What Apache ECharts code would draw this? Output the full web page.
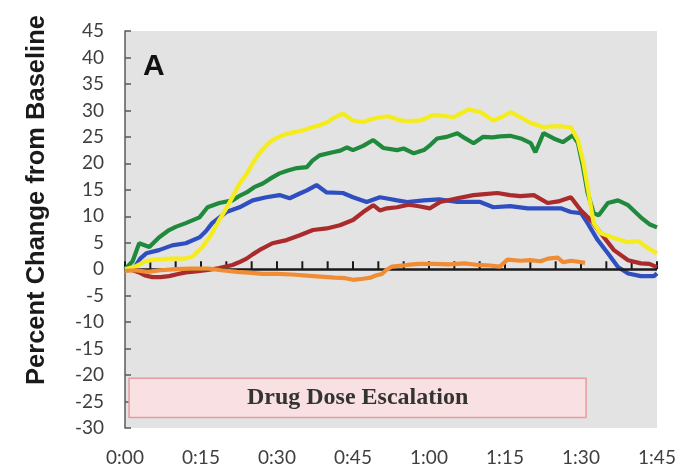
<!DOCTYPE html>
<html>
<head>
<meta charset="utf-8">
<script src="https://cdn.jsdelivr.net/npm/echarts@6/dist/echarts.min.js"></script>
<style>
  html, body { margin: 0; padding: 0; background: #ffffff; }
  #chart { width: 679px; height: 469px; }
</style>
</head>
<body>
<div id="chart"></div>
<script>
// Time axis, in minutes from start
const timeMin = 0;
const timeMax = 105;
const timeLabels = ['0:00', '0:15', '0:30', '0:45', '1:00', '1:15', '1:30', '1:45'];
// small marks on the 0 % baseline, every 5 minutes
const baselineTicks = [0, 5, 10, 15, 20, 25, 30, 35, 40, 45, 50, 55, 60, 65, 70, 75, 80, 85, 90, 95, 100, 105];

// Percent change axis
const pctMin = -30;
const pctMax = 45;

// Each series: [minute, percent change from baseline]
const yellowSeries = [
  [0, 0], [2, 0.5], [4, 1.5], [6, 1.8], [9, 2], [12, 2], [13.5, 2.5], [15.3, 4.2], [17, 6.5],
  [18.6, 9.3], [20, 11.5], [21.2, 13.6], [22.5, 16], [24, 18], [25.2, 20], [26.5, 21.9], [28, 23.5],
  [29.1, 24.4], [31, 25.3], [33, 25.8], [35, 26.2], [37, 26.8], [38.4, 27.2], [40, 27.8], [41, 28.5],
  [43, 29.4], [45, 28.1], [47, 27.8], [48.5, 28.3], [50.3, 28.7], [52, 28.9], [54.3, 28.1], [56, 28],
  [58.3, 28.1], [60.8, 29.1], [62.5, 29], [64.8, 28.7], [67.8, 30.2], [70.1, 29.7], [72.7, 28.1],
  [74.5, 28.8], [76.1, 29.7], [78.1, 28.7], [80.1, 27.6], [82.6, 26.8], [84, 27], [86, 27], [88, 26.8],
  [89.4, 24.4], [90.5, 20], [91.5, 14.4], [92.5, 8.7], [93.9, 6.8], [96.5, 5.9], [99.3, 5.1],
  [101.3, 5.3], [103.2, 4], [105, 3]
];
const greenSeries = [
  [0, 0], [1.5, 1.5], [2.8, 4.9], [4.8, 4.2], [6.7, 6], [8.7, 7.4], [10, 8], [12, 8.7], [14.7, 9.8],
  [16.3, 11.7], [18.6, 12.5], [21.2, 13], [22.5, 13.8], [24, 14.5], [25.5, 15.5], [27.2, 16.2],
  [29, 17.3], [30.5, 18.1], [32, 18.6], [33.9, 19.1], [35.9, 19.3], [37, 20.5], [38.4, 21.5], [41, 22.1],
  [42.5, 22.4], [43.8, 23], [45, 22.5], [47, 23.3], [49, 24.4], [51, 22.9], [53.7, 22.5], [55, 22.8],
  [57, 21.9], [59, 22.5], [60.3, 23.5], [61.6, 24.7], [63.5, 25], [65.6, 25.7], [67, 24.8], [68.8, 23.8],
  [70.7, 25], [72.5, 24.9], [74.1, 25.1], [76, 25.2], [78.1, 24.7], [80.1, 23.8], [81, 22.1],
  [82.6, 25.7], [84.6, 24.7], [86.4, 24], [88.4, 25.3], [89.4, 23.8], [90.4, 19.3], [91.3, 14.4],
  [92.5, 10.6], [93.5, 10.2], [95.3, 12.5], [97.3, 13], [99.3, 12.1], [101.8, 9.8], [103.5, 8.5],
  [105, 7.9]
];
const blueSeries = [
  [0, 0], [2, 0.5], [3, 2], [4.2, 3], [6.7, 3.6], [9.3, 4.5], [12, 4.9], [14.7, 6], [16, 7.2],
  [17.2, 8.7], [20, 10.8], [22.6, 11.7], [25.2, 13], [27.9, 13.6], [30.5, 14], [32.5, 13.4],
  [34.5, 14.3], [35.9, 14.9], [37.8, 15.9], [39.8, 14.5], [43, 14.4], [45, 13.6], [47.7, 12.7],
  [50.3, 13.6], [52, 13.3], [53.7, 13], [55.7, 12.7], [59, 13], [62, 13.2], [65.6, 12.7], [70.1, 12.7],
  [72.7, 11.7], [76, 11.9], [79.5, 11.5], [82.6, 11.5], [86, 11.5], [88, 10.8], [90, 10.6],
  [91.3, 8.7], [93.3, 5.5], [95.3, 3], [97.3, 0.4], [99.3, -0.8], [101.8, -1.3], [104.4, -1.3],
  [105, -0.8]
];
const redSeries = [
  [0, 0], [1.5, -0.2], [2.8, -0.6], [4, -1.2], [5.4, -1.5], [7, -1.5], [8.7, -1.3], [10.5, -0.9],
  [12, -0.6], [14, -0.4], [16, -0.2], [18.6, 0.2], [21.2, 0.8], [22.5, 1.3], [24, 2], [25.2, 2.8],
  [26.5, 3.6], [29.1, 4.9], [31.9, 5.5], [34.5, 6.4], [37.1, 7.4], [39.8, 7.7], [42.4, 8.3], [45, 9.3],
  [47, 10.8], [49, 12.1], [50.3, 11.1], [51.7, 11.5], [53.7, 11.7], [56, 12.2], [58, 11.9],
  [60.2, 11.5], [62.2, 12.7], [65.6, 13.4], [68.8, 14], [71, 14.2], [73.5, 14.4], [76, 14], [78, 13.8],
  [80.7, 14], [83.4, 12.5], [85.5, 12.8], [88, 13.6], [90, 11.1], [91.9, 9.3], [93.9, 6.8],
  [96.5, 3.6], [99.3, 1.7], [101.8, 1.1], [103.5, 1], [105, 0.4]
];
const orangeSeries = [
  [0, -0.3], [2, -0.2], [4.5, -0.5], [7, -0.2], [10, 0], [13, 0.1], [16.6, 0.1], [19, -0.2],
  [22.2, -0.5], [25, -0.7], [27.1, -0.9], [30, -0.9], [33, -1], [37.2, -1.3], [41.4, -1.6],
  [43.5, -1.7], [45, -2], [47, -1.8], [48.5, -1.6], [49.5, -1.2], [50.7, -0.9], [51.5, -0.2],
  [52.7, 0.5], [55.7, 0.8], [58, 1], [61, 1], [64, 0.9], [67, 1.1], [69.8, 0.8], [72, 0.7], [74, 0.5],
  [75.5, 1.8], [78, 1.6], [80, 1.7], [82, 1.5], [83.5, 2], [85.4, 2.2], [86.5, 1.3], [88, 1.6],
  [89.5, 1.4], [90.8, 1.2]
];

// Dose escalation window (minutes) and its vertical band (percent)
const doseStart = 0.8;
const doseEnd = 91;
const doseTop = -20.6;
const doseBottom = -28;
const doseText = 'Drug Dose Escalation';

const labelFont = 'Lato';
const textGray = '#3f3f3f';
const tickHeight = 1.5; // baseline mark height, in percent units

function lineSeries(name, data, color, z) {
  return {
    name: name,
    type: 'line',
    data: data,
    showSymbol: false,
    silent: true,
    z: z,
    lineStyle: { color: color, width: 4.2 },
    emphasis: { disabled: true }
  };
}

// Baseline at 0 % with the dose-escalation band, drawn under the traces
const baselineSeries = {
  name: 'baseline',
  type: 'line',
  data: [],
  silent: true,
  z: 2,
  markLine: {
    silent: true,
    symbol: 'none',
    label: { show: false },
    emphasis: { disabled: true },
    lineStyle: { color: '#1a1a1a', width: 2.5, type: 'solid' },
    data: [[{ coord: [timeMin, 0] }, { coord: [timeMax, 0] }]]
  },
  markArea: {
    silent: true,
    itemStyle: { color: '#f9e0e2', borderColor: '#e49ca2', borderWidth: 1.5 },
    label: {
      show: true,
      position: 'inside',
      formatter: doseText,
      fontFamily: 'Liberation Serif',
      fontWeight: 'bold',
      fontSize: 24,
      color: '#333333'
    },
    emphasis: { disabled: true },
    data: [[{ coord: [doseStart, doseTop] }, { coord: [doseEnd, doseBottom] }]]
  }
};

// Short upward marks on the baseline
const baselineTickSeries = {
  name: 'baselineTicks',
  type: 'custom',
  silent: true,
  z: 2,
  data: baselineTicks.map(function (t) { return [t]; }),
  renderItem: function (params, api) {
    const p0 = api.coord([api.value(0), 0]);
    const p1 = api.coord([api.value(0), tickHeight]);
    return {
      type: 'line',
      shape: { x1: p0[0], y1: p0[1], x2: p1[0], y2: p1[1] },
      style: { stroke: '#1a1a1a', lineWidth: 2 }
    };
  }
};

const series = [
  baselineSeries,
  baselineTickSeries,
  lineSeries('blue', blueSeries, '#2f4fc0', 3),
  lineSeries('red', redSeries, '#ab2a2c', 4),
  lineSeries('green', greenSeries, '#1f8a3c', 5),
  lineSeries('yellow', yellowSeries, '#f4ec1c', 6),
  lineSeries('orange', orangeSeries, '#f08c34', 7)
];

const chart = echarts.init(document.getElementById('chart'), null, { renderer: 'canvas' });

chart.setOption({
  animation: false,
  backgroundColor: '#ffffff',
  grid: {
    left: 125, right: 22, top: 31, bottom: 41,
    show: true, backgroundColor: '#e3e3e3', borderWidth: 0
  },
  xAxis: {
    type: 'value',
    min: timeMin, max: timeMax, interval: 15,
    position: 'bottom',
    axisLine: { show: false, onZero: false },
    axisTick: { show: false },
    splitLine: { show: false },
    axisLabel: {
      margin: 20,
      fontFamily: labelFont,
      fontSize: 19,
      color: textGray,
      formatter: function (v) { return timeLabels[Math.round(v / 15)]; }
    }
  },
  yAxis: {
    type: 'value',
    min: pctMin, max: pctMax, interval: 5,
    axisLine: { show: true, onZero: false, lineStyle: { color: '#5a5a5a', width: 1.5 } },
    axisTick: { show: true, inside: true, length: 6, lineStyle: { color: '#5a5a5a', width: 1.5 } },
    splitLine: { show: false },
    axisLabel: {
      margin: 21,
      fontFamily: labelFont,
      fontSize: 19,
      color: textGray
    }
  },
  graphic: [
    {
      type: 'text',
      x: 37, y: 200,
      rotation: Math.PI / 2,
      style: {
        text: 'Percent Change from Baseline',
        fontFamily: 'Liberation Sans',
        fontWeight: 'bold',
        fontSize: 25.5,
        fill: '#1a1a1a',
        textAlign: 'center',
        textVerticalAlign: 'middle'
      }
    },
    {
      type: 'text',
      x: 143, y: 52,
      style: {
        text: 'A',
        fontFamily: 'Liberation Sans',
        fontWeight: 'bold',
        fontSize: 30,
        fill: '#111111'
      }
    }
  ],
  series: series
});
</script>
</body>
</html>
